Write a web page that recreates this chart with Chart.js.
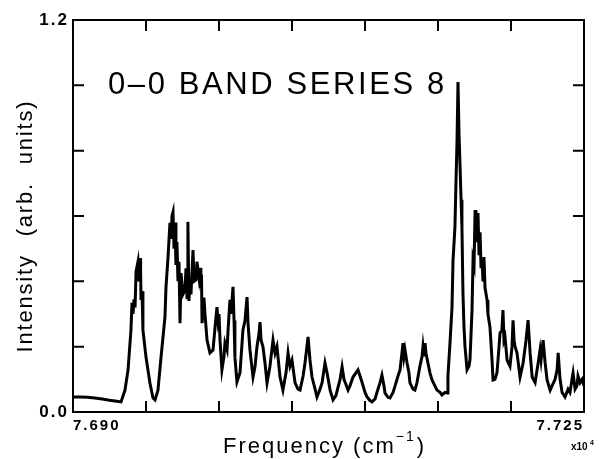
<!DOCTYPE html>
<html>
<head>
<meta charset="utf-8">
<script src="https://cdn.jsdelivr.net/npm/chart.js@4"></script>
<style>
  body { margin: 0; background: #fff; }
  canvas { display: block; }
</style>
</head>
<body>
<canvas id="spectrum" width="599" height="459"></canvas>
<script>
// frequency (cm-1) and intensity
const freq = [
  76900, 76905, 76910, 76915, 76920, 76925, 76930, 76932.9, 76935.6, 76937.7,
  76939.7, 76940.4, 76941.1, 76941.8, 76942.5, 76943.2, 76944.5, 76945.2, 76945.9, 76946.3,
  76946.6, 76947.3, 76947.9, 76950.0, 76952.7, 76954.8, 76956.2, 76958.2, 76960.3, 76963.0,
  76963.7, 76965.1, 76966.4, 76967.1, 76967.8, 76968.5, 76969.2, 76969.9, 76970.5, 76971.2,
  76971.9, 76972.6, 76973.3, 76974.0, 76975.3, 76976.7, 76977.4, 76978.1, 76978.7, 76979.4,
  76980.1, 76980.8, 76982.2, 76982.9, 76984.2, 76984.9, 76986.3, 76987.0, 76987.6, 76988.0,
  76988.4, 76989.7, 76990.4, 76991.8, 76993.8, 76995.9, 76997.3, 76998.6, 76999.3, 77000.0,
  77000.7, 77002.0, 77003.4, 77004.1, 77005.5, 77006.2, 77007.5, 77008.2, 77009.6, 77010.3,
  77010.9, 77012.3, 77014.4, 77016.4, 77017.8, 77019.2, 77019.9, 77021.2, 77023.3, 77024.7,
  77026.0, 77027.4, 77028.1, 77028.8, 77030.1, 77031.5, 77032.9, 77034.9, 77037.0, 77038.4,
  77039.7, 77041.8, 77043.8, 77045.9, 77047.3, 77048.6, 77050.0, 77052.1, 77054.1, 77055.5,
  77057.6, 77058.9, 77061.0, 77062.3, 77063.7, 77065.8, 77067.1, 77069.2, 77070.6, 77072.6,
  77074.0, 77076.1, 77078.1, 77080.1, 77081.6, 77082.9, 77084.3, 77085.6, 77086.3, 77088.4,
  77089.7, 77091.8, 77093.8, 77095.2, 77096.6, 77097.9, 77100.0, 77101.4, 77103.4, 77104.8,
  77106.9, 77108.2, 77110.3, 77111.6, 77113.0, 77113.7, 77115.8, 77117.1, 77119.2, 77120.6,
  77122.6, 77124.0, 77125.3, 77126.0, 77126.7, 77127.4, 77128.8, 77130.1, 77130.8, 77132.9,
  77134.2, 77135.6, 77136.3, 77137.6, 77139.0, 77139.7, 77140.4, 77141.1, 77141.8, 77143.1,
  77144.5, 77145.9, 77147.9, 77149.3, 77151.4, 77152.7, 77154.8, 77156.2, 77156.8, 77158.2,
  77159.6, 77160.3, 77161.6, 77162.3, 77163.0, 77163.7, 77164.4, 77165.1, 77165.8, 77166.4,
  77167.1, 77167.8, 77168.5, 77169.9, 77171.2, 77171.9, 77173.3, 77174.0, 77174.7, 77175.4,
  77176.0, 77176.7, 77177.4, 77178.1, 77178.8, 77179.5, 77180.2, 77180.8, 77181.5, 77182.2,
  77183.6, 77184.2, 77185.6, 77187.0, 77187.7, 77189.0, 77190.4, 77191.8, 77192.5, 77193.8,
  77194.5, 77195.2, 77195.9, 77197.3, 77199.3, 77200.7, 77201.4, 77202.1, 77202.8, 77204.1,
  77206.2, 77208.3, 77210.3, 77211.7, 77213.1, 77214.5, 77216.5, 77218.6, 77219.9, 77220.6,
  77222.0, 77223.4, 77224.7, 77226.8, 77228.1, 77230.2, 77231.6, 77232.3, 77233.6, 77235.0,
  77237.0, 77239.1, 77240.4, 77241.8, 77242.5, 77243.9, 77245.2, 77245.9, 77247.3, 77248.7,
  77250.0
];
const intensity = [
  0.046, 0.046, 0.045, 0.043, 0.040, 0.036, 0.033, 0.031, 0.067, 0.129,
  0.251, 0.334, 0.300, 0.345, 0.320, 0.430, 0.460, 0.400, 0.471, 0.430,
  0.343, 0.370, 0.251, 0.168, 0.089, 0.043, 0.037, 0.067, 0.168, 0.291,
  0.383, 0.474, 0.579, 0.530, 0.600, 0.612, 0.500, 0.580, 0.450, 0.520,
  0.400, 0.460, 0.272, 0.425, 0.360, 0.373, 0.440, 0.350, 0.582, 0.340,
  0.400, 0.360, 0.496, 0.400, 0.404, 0.460, 0.410, 0.441, 0.380, 0.420,
  0.272, 0.350, 0.300, 0.220, 0.181, 0.190, 0.260, 0.321, 0.280, 0.300,
  0.220, 0.129, 0.170, 0.211, 0.190, 0.250, 0.343, 0.300, 0.383, 0.280,
  0.168, 0.092, 0.120, 0.251, 0.280, 0.352, 0.270, 0.190, 0.107, 0.140,
  0.199, 0.240, 0.275, 0.220, 0.200, 0.150, 0.089, 0.140, 0.220, 0.180,
  0.200, 0.107, 0.067, 0.120, 0.181, 0.140, 0.159, 0.089, 0.070, 0.067,
  0.110, 0.150, 0.230, 0.160, 0.107, 0.070, 0.046, 0.070, 0.090, 0.150,
  0.120, 0.067, 0.037, 0.050, 0.077, 0.100, 0.138, 0.100, 0.092, 0.067,
  0.080, 0.107, 0.120, 0.129, 0.110, 0.092, 0.060, 0.046, 0.035, 0.031,
  0.040, 0.060, 0.090, 0.113, 0.080, 0.058, 0.045, 0.043, 0.060, 0.080,
  0.110, 0.129, 0.180, 0.211, 0.170, 0.190, 0.150, 0.120, 0.089, 0.070,
  0.067, 0.090, 0.107, 0.140, 0.168, 0.200, 0.170, 0.211, 0.180, 0.150,
  0.120, 0.098, 0.080, 0.067, 0.060, 0.052, 0.060, 0.058, 0.110, 0.211,
  0.321, 0.465, 0.566, 0.700, 0.823, 1.010, 0.850, 0.753, 0.650, 0.566,
  0.364, 0.260, 0.200, 0.129, 0.140, 0.160, 0.312, 0.465, 0.450, 0.618,
  0.520, 0.560, 0.609, 0.480, 0.550, 0.440, 0.465, 0.400, 0.474, 0.380,
  0.343, 0.300, 0.260, 0.160, 0.098, 0.100, 0.120, 0.200, 0.242, 0.250,
  0.312, 0.220, 0.230, 0.159, 0.140, 0.200, 0.281, 0.220, 0.200, 0.181,
  0.107, 0.150, 0.220, 0.281, 0.180, 0.107, 0.090, 0.150, 0.190, 0.160,
  0.220, 0.150, 0.098, 0.067, 0.080, 0.100, 0.130, 0.181, 0.100, 0.060,
  0.046, 0.070, 0.060, 0.100, 0.119, 0.070, 0.080, 0.110, 0.090, 0.100,
  0.080
];

const xMin = 76900, xMax = 77250, xStep = 50;
const yMin = 0, yMax = 1.2, yStep = 0.2;
const xTickLabels = ['7.690', '7.725'];
const yTickLabels = ['0.0', '1.2'];
const bandLabel = '0\u20130 BAND SERIES 8';

const points = freq.map((f, i) => ({ x: f, y: intensity[i] }));

// frame + inward tick marks on all four sides, and the in-plot text
const framePlugin = {
  id: 'frame',
  beforeDraw(chart) {
    chart.ctx.letterSpacing = '2px';
  },
  afterDraw(chart) {
    const { ctx, chartArea: a, scales } = chart;
    ctx.save();
    ctx.letterSpacing = '0px';
    ctx.strokeStyle = '#000';
    ctx.lineWidth = 2;
    ctx.strokeRect(a.left, a.top, a.right - a.left, a.bottom - a.top);
    const len = 11;
    ctx.beginPath();
    scales.x.ticks.forEach(t => {
      const px = scales.x.getPixelForValue(t.value);
      ctx.moveTo(px, a.bottom); ctx.lineTo(px, a.bottom - len);
      ctx.moveTo(px, a.top); ctx.lineTo(px, a.top + len);
    });
    scales.y.ticks.forEach(t => {
      const py = scales.y.getPixelForValue(t.value);
      ctx.moveTo(a.left, py); ctx.lineTo(a.left + len, py);
      ctx.moveTo(a.right, py); ctx.lineTo(a.right - len, py);
    });
    ctx.stroke();

    ctx.fillStyle = '#000';
    ctx.textBaseline = 'alphabetic';
    ctx.textAlign = 'left';
    ctx.font = '31px "Liberation Sans", Arial, sans-serif';
    ctx.letterSpacing = '2.6px';
    ctx.fillText(bandLabel, 108, 94);

    // x axis title with superscript
    ctx.font = '22px "Liberation Sans", Arial, sans-serif';
    ctx.letterSpacing = '2px';
    let x = 223;
    const base = 'Frequency (cm';
    ctx.fillText(base, x, 453);
    x += ctx.measureText(base).width;
    ctx.font = '14px "Liberation Sans", Arial, sans-serif';
    ctx.fillText('\u22121', x, 441);
    x += ctx.measureText('\u22121').width + 1;
    ctx.font = '22px "Liberation Sans", Arial, sans-serif';
    ctx.fillText(')', x, 453);

    // y axis title
    ctx.save();
    ctx.translate(32, 226);
    ctx.rotate(-Math.PI / 2);
    ctx.textAlign = 'center';
    ctx.font = '22px "Liberation Sans", Arial, sans-serif';
    ctx.letterSpacing = '1.8px';
    ctx.wordSpacing = '10px';
    ctx.fillText('Intensity (arb. units)', 0, 0);
    ctx.restore();

    ctx.font = 'bold 10px "Liberation Sans", Arial, sans-serif';
    ctx.letterSpacing = '0px';
    ctx.fillText('x10', 571, 450);
    ctx.font = 'bold 7px "Liberation Sans", Arial, sans-serif';
    ctx.fillText('4', 590, 445);
    ctx.restore();
  }
};

new Chart(document.getElementById('spectrum'), {
  type: 'line',
  data: {
    datasets: [{
      data: points,
      borderColor: '#000',
      borderWidth: 3,
      pointRadius: 0,
      tension: 0,
      fill: false
    }]
  },
  options: {
    responsive: false,
    animation: false,
    devicePixelRatio: 1,
    layout: { padding: { top: 20, right: 15, left: 0, bottom: 0 } },
    plugins: { legend: { display: false }, tooltip: { enabled: false } },
    scales: {
      x: {
        type: 'linear',
        min: xMin,
        max: xMax,
        grid: { display: false, drawTicks: false },
        border: { display: false },
        ticks: {
          stepSize: xStep,
          autoSkip: false,
          maxRotation: 0,
          align: 'inner',
          padding: 5,
          color: '#000',
          font: { family: '"Liberation Sans", Arial, sans-serif', size: 15, weight: 'bold' },
          callback: v => v === xMin ? xTickLabels[0] : (v === xMax ? xTickLabels[1] : '')
        },
        afterFit: s => { s.height = 47; }
      },
      y: {
        min: yMin,
        max: yMax,
        grid: { display: false, drawTicks: false },
        border: { display: false },
        ticks: {
          stepSize: yStep,
          padding: 4,
          color: '#000',
          font: { family: '"Liberation Sans", Arial, sans-serif', size: 17, weight: 'bold' },
          callback: v => Math.abs(v - yMin) < 1e-6 ? yTickLabels[0] : (Math.abs(v - yMax) < 1e-6 ? yTickLabels[1] : '')
        },
        afterFit: s => { s.width = 73; }
      }
    }
  },
  plugins: [framePlugin]
});
</script>
</body>
</html>
